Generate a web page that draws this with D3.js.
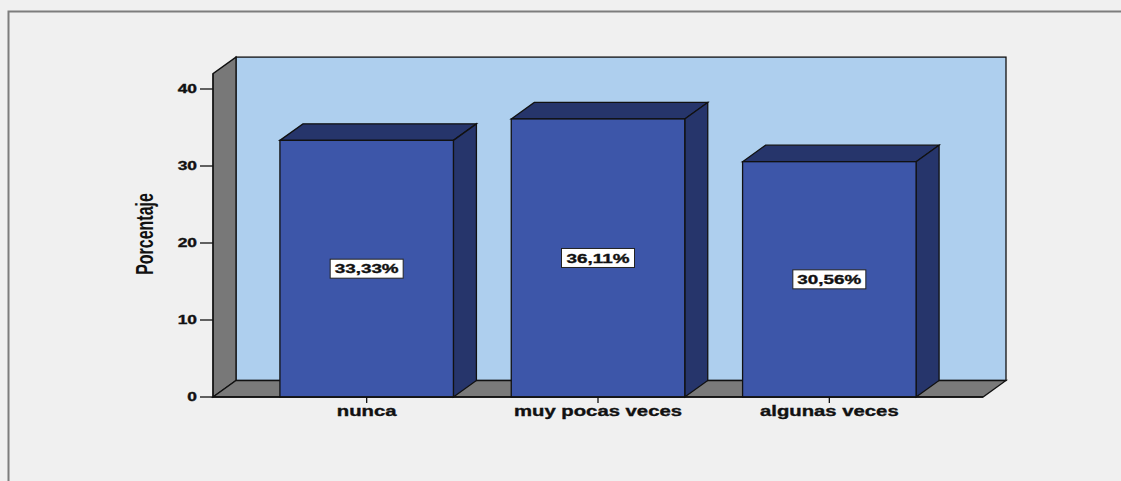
<!DOCTYPE html>
<html>
<head>
<meta charset="utf-8">
<script src="https://cdn.jsdelivr.net/npm/d3@7"></script>
<style>
  html, body { margin: 0; padding: 0; background: #f0f0f0; }
  svg { display: block; }
  text { font-family: Arial, "Liberation Sans", sans-serif; fill: #111; }
  text.heavy { stroke: #111; stroke-width: 0.35px; }
</style>
</head>
<body>
<svg id="chart" width="1121" height="481"></svg>
<script>
// Frequency table: percentage of answers per category
const categories = ["nunca", "muy pocas veces", "algunas veces"];
const percentages = [33.33, 36.11, 30.56];
const yTicks = [0, 10, 20, 30, 40];
const yTitle = "Porcentaje";

const W = 1121, H = 481;
const svg = d3.select("#chart");

// 3-D box layout
const depthX = 23, depthY = 16.5;
const x0 = 213, x1 = 983;          // front floor edge
const SX = 1.45;                   // horizontal text stretch

const y = d3.scaleLinear().domain([0, 42]).range([397, 73.6]);
const x = d3.scaleBand().domain(categories).range([251, 945])
  .paddingInner(0.25).paddingOuter(0.125);

const fmt = v => d3.format(".2f")(v).replace(".", ",") + "%";

// background and outer frame
svg.append("rect").attr("width", W).attr("height", H).attr("fill", "#f0f0f0");
svg.append("path")
  .attr("d", `M8.5,${H} L8.5,11.5 L${W},11.5`)
  .attr("fill", "none").attr("stroke", "#7d7d7d").attr("stroke-width", 2);

const g = svg.append("g");
const yTop = y.range()[1], yBot = y.range()[0];

// back wall
g.append("rect")
  .attr("x", x0 + depthX).attr("y", yTop - depthY)
  .attr("width", x1 - x0).attr("height", yBot - yTop)
  .attr("fill", "#aecfee").attr("stroke", "#111").attr("stroke-width", 1.3);

// left side wall
g.append("polygon")
  .attr("points", [[x0, yBot], [x0, yTop], [x0 + depthX, yTop - depthY], [x0 + depthX, yBot - depthY]].join(" "))
  .attr("fill", "#787878").attr("stroke", "#111").attr("stroke-width", 1.3);

// floor
g.append("polygon")
  .attr("points", [[x0, yBot], [x0 + depthX, yBot - depthY], [x1 + depthX, yBot - depthY], [x1, yBot]].join(" "))
  .attr("fill", "#7a7a7a").attr("stroke", "#111").attr("stroke-width", 1.3);

// bars
const bars = g.selectAll("g.bar").data(categories.map((c, i) => ({ c, v: percentages[i] })))
  .join("g").attr("class", "bar");

bars.append("polygon") // top face
  .attr("points", d => {
    const l = x(d.c), r = l + x.bandwidth(), t = y(d.v);
    return [[l, t], [l + depthX, t - depthY], [r + depthX, t - depthY], [r, t]].join(" ");
  })
  .attr("fill", "#26356b").attr("stroke", "#111").attr("stroke-width", 1.3);

bars.append("polygon") // side face
  .attr("points", d => {
    const r = x(d.c) + x.bandwidth(), t = y(d.v);
    return [[r, t], [r + depthX, t - depthY], [r + depthX, yBot - depthY], [r, yBot]].join(" ");
  })
  .attr("fill", "#26356b").attr("stroke", "#111").attr("stroke-width", 1.3);

bars.append("rect") // front face
  .attr("x", d => x(d.c)).attr("y", d => y(d.v))
  .attr("width", x.bandwidth()).attr("height", d => yBot - y(d.v))
  .attr("fill", "#3d56a9").attr("stroke", "#111").attr("stroke-width", 1.3);

// value labels
const lab = bars.append("g")
  .attr("transform", d => `translate(${x(d.c) + x.bandwidth() / 2},${(y(d.v) + yBot) / 2})`);
lab.append("rect")
  .attr("x", -36.5).attr("y", -9.5).attr("width", 73).attr("height", 19)
  .attr("fill", "#fff").attr("stroke", "#222").attr("stroke-width", 1);
lab.append("text").attr("class", "heavy")
  .attr("transform", `scale(${SX},1)`)
  .attr("text-anchor", "middle").attr("dy", "0.36em")
  .attr("font-size", 13).attr("font-weight", "bold")
  .text(d => fmt(d.v));

// y axis
g.append("line").attr("x1", x0).attr("x2", x0).attr("y1", yBot).attr("y2", yTop)
  .attr("stroke", "#111").attr("stroke-width", 1.3);
const yt = g.selectAll("g.ytick").data(yTicks).join("g").attr("class", "ytick")
  .attr("transform", d => `translate(${x0},${y(d)})`);
yt.append("line").attr("x1", -13).attr("x2", 0).attr("stroke", "#111").attr("stroke-width", 1.3);
yt.append("text").attr("class", "heavy")
  .attr("transform", `translate(-16,0) scale(${SX},1)`)
  .attr("text-anchor", "end").attr("dy", "0.36em")
  .attr("font-size", 12).attr("font-weight", "bold")
  .text(d => d);

// x axis
g.append("line").attr("x1", x0).attr("x2", x1).attr("y1", yBot).attr("y2", yBot)
  .attr("stroke", "#111").attr("stroke-width", 1.3);
const xt = g.selectAll("g.xtick").data(categories).join("g").attr("class", "xtick")
  .attr("transform", d => `translate(${x(d) + x.bandwidth() / 2},${yBot})`);
xt.append("line").attr("y1", 0).attr("y2", 6).attr("stroke", "#111").attr("stroke-width", 1.3);
xt.append("text").attr("class", "heavy")
  .attr("transform", `translate(0,19) scale(${SX},1)`)
  .attr("text-anchor", "middle")
  .attr("font-size", 14).attr("font-weight", "bold")
  .text(d => d);

// y axis title
svg.append("text")
  .attr("transform", `translate(153,234) rotate(-90) scale(1,${SX})`)
  .attr("text-anchor", "middle")
  .attr("font-size", 16).attr("font-weight", "bold")
  .text(yTitle);
</script>
</body>
</html>
